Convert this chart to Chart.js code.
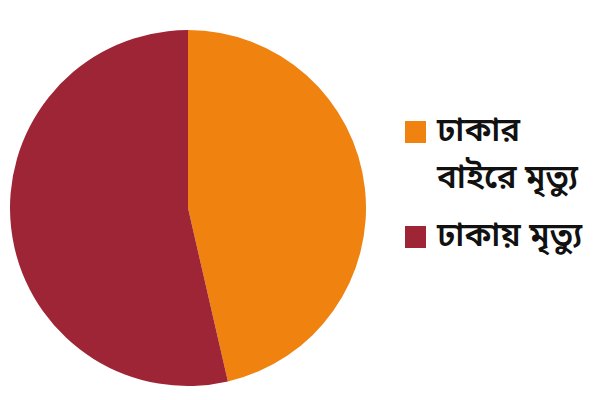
<!DOCTYPE html>
<html>
<head>
<meta charset="utf-8">
<script src="https://cdn.jsdelivr.net/npm/chart.js@4"></script>
<style>
  body { margin: 0; background: #fff; width: 600px; height: 400px; overflow: hidden; position: relative; }
  #pieWrap { position: absolute; left: 10px; top: 30px; width: 356px; height: 356px; }
  #legend { position: absolute; left: 405px; top: 109px; font-family: "Noto Sans Bengali", "Noto Serif Bengali", "Lohit Bengali", "Noto Sans", sans-serif; font-size: 33px; font-weight: 600; color: #111; }
  .item { display: flex; align-items: flex-start; margin-bottom: 11px; }
  .box { width: 21px; height: 22px; margin-top: 12px; margin-right: 11px; flex-shrink: 0; }
  .txt { line-height: 47px; }
</style>
</head>
<body>
<div id="pieWrap"><canvas id="pie"></canvas></div>
<div id="legend"></div>
<script>
const labels = [["ঢাকার", "বাইরে মৃত্যু"], ["ঢাকায় মৃত্যু"]];
const values = [46.4, 53.6];
const colors = ["#F0820F", "#9E2536"];

const chart = new Chart(document.getElementById("pie"), {
  type: "pie",
  data: {
    labels: labels,
    datasets: [{ data: values, backgroundColor: colors, borderWidth: 0 }],
  },
  options: {
    responsive: true,
    maintainAspectRatio: false,
    animation: false,
    plugins: { legend: { display: false }, tooltip: { enabled: false } },
  },
});

// html legend from the chart's own labels
const legendDiv = document.getElementById("legend");
chart.data.labels.forEach((lab, i) => {
  const item = document.createElement("div");
  item.className = "item";
  item.innerHTML = `<div class="box" style="background:${colors[i]}"></div><div class="txt">${[].concat(lab).join("<br>")}</div>`;
  legendDiv.appendChild(item);
});
</script>
</body>
</html>
